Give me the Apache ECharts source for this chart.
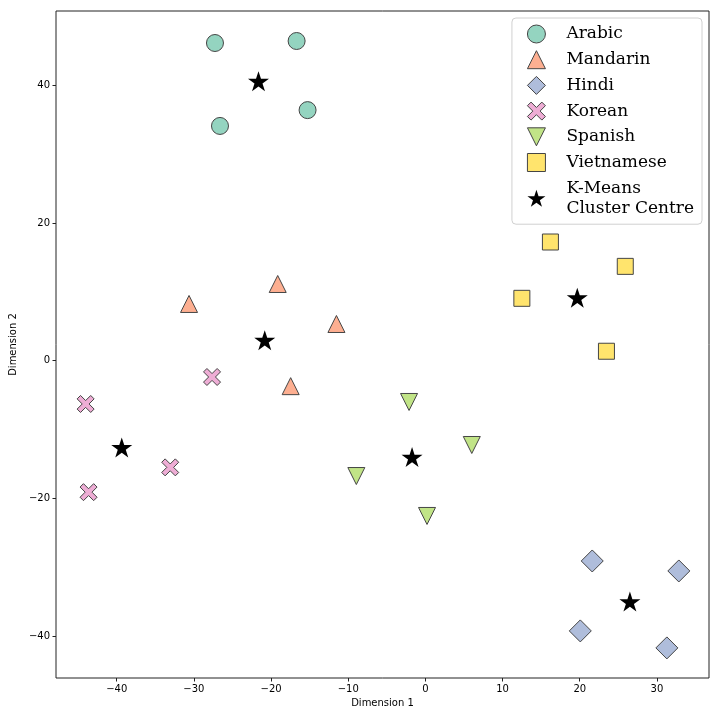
<!DOCTYPE html>
<html>
<head>
<meta charset="utf-8">
<script src="https://cdn.jsdelivr.net/npm/echarts@6/dist/echarts.min.js"></script>
<style>
  html, body { margin: 0; padding: 0; background: #fff; }
  #chart { width: 720px; height: 720px; }
</style>
</head>
<body>
<div id="chart"></div>
<script>
// values
const arabic = [[-27.27, 46.15], [-16.69, 46.44], [-26.62, 34.1], [-15.27, 36.4]];
const mandarin = [[-30.63, 8.24], [-19.14, 11.14], [-11.53, 5.33], [-17.46, -3.7]];
const hindi = [[21.62, -29.1], [32.84, -30.55], [20.07, -39.26], [31.29, -41.73]];
const korean = [[-44.03, -6.29], [-27.65, -2.37], [-33.07, -15.5], [-43.65, -19.1]];
const spanish = [[-2.12, -6.0], [6.01, -12.25], [-8.95, -16.76], [0.21, -22.56]];
const vietnamese = [[16.2, 17.24], [25.9, 13.7], [12.5, 9.06], [23.46, 1.37]];
const centres = [[-21.63, 40.6], [-20.82, 2.97], [-39.35, -12.6], [-1.73, -14.0], [19.68, 9.15], [26.5, -35.0]];

const xTicks = [-40, -30, -20, -10, 0, 10, 20, 30];
const yTicks = [-40, -20, 0, 20, 40];

// marker shapes
const crossPath = 'path://M0.53,-0.884L0.884,-0.53L0.354,0L0.884,0.53L0.53,0.884L0,0.354L-0.53,0.884L-0.884,0.53L-0.354,0L-0.884,-0.53L-0.53,-0.884L0,-0.354Z';
const downTri = 'path://M-1,-1L1,-1L0,1Z';
const starPath = 'path://M0,-1L0.225,-0.309L0.951,-0.309L0.363,0.118L0.588,0.809L0,0.382L-0.588,0.809L-0.363,0.118L-0.951,-0.309L-0.225,-0.309Z';

const edge = '#454545';
const minus = v => String(v).replace('-', '\u2212');

const chart = echarts.init(document.getElementById('chart'));

function pts(name, data, symbol, size, color) {
  return {
    name: name,
    type: 'scatter',
    data: data,
    symbol: symbol,
    symbolSize: size,
    itemStyle: { color: color, borderColor: edge, borderWidth: 1, opacity: 1 },
    emphasis: { disabled: true }
  };
}

const option = {
  animation: false,
  backgroundColor: '#fff',
  grid: {
    left: 53, right: 11, top: 11, bottom: 42,
    show: true, borderColor: '#222', borderWidth: 1
  },
  xAxis: {
    type: 'value',
    min: -47.87, max: 36.75,
    name: 'Dimension 1',
    nameLocation: 'middle',
    nameGap: 20,
    nameTextStyle: { fontFamily: 'DejaVu Sans', fontSize: 10, color: '#000' },
    splitLine: { show: false },
    axisLine: { show: false, onZero: false },
    axisTick: { show: true, length: 3.5, customValues: xTicks, lineStyle: { color: '#222' } },
    axisLabel: {
      customValues: xTicks, formatter: minus, margin: 6,
      fontFamily: 'DejaVu Sans', fontSize: 10, color: '#000'
    }
  },
  yAxis: {
    type: 'value',
    min: -46.1, max: 50.8,
    name: 'Dimension 2',
    nameLocation: 'middle',
    nameGap: 37,
    nameRotate: 90,
    nameTextStyle: { fontFamily: 'DejaVu Sans', fontSize: 10, color: '#000' },
    splitLine: { show: false },
    axisLine: { show: false, onZero: false },
    axisTick: { show: true, length: 3.5, customValues: yTicks, lineStyle: { color: '#222' } },
    axisLabel: {
      customValues: yTicks, formatter: minus, margin: 6,
      fontFamily: 'DejaVu Sans', fontSize: 10, color: '#000'
    }
  },
  legend: {
    orient: 'vertical',
    right: 18,
    top: 18,
    padding: [6, 8, 6, 15],
    itemWidth: 18,
    itemHeight: 18,
    itemGap: 5.7,
    backgroundColor: '#fff',
    borderColor: '#d0d0d0',
    borderWidth: 1,
    borderRadius: 4,
    selectedMode: false,
    itemStyle: { borderWidth: 1 },
    textStyle: {
      fontFamily: 'DejaVu Serif', fontSize: 17, lineHeight: 20, color: '#000',
      padding: [0, 0, 0, 16]
    },
    data: [
      { name: 'Arabic', icon: 'circle' },
      { name: 'Mandarin', icon: 'triangle' },
      { name: 'Hindi', icon: 'diamond' },
      { name: 'Korean', icon: crossPath },
      { name: 'Spanish', icon: downTri },
      { name: 'Vietnamese', icon: 'rect' },
      { name: 'K-Means\nCluster Centre', icon: starPath }
    ]
  },
  series: [
    pts('Arabic', arabic, 'circle', 17, '#94d4c0'),
    pts('Mandarin', mandarin, 'triangle', 17, '#fdaf91'),
    pts('Hindi', hindi, 'diamond', 22, '#afbddb'),
    pts('Korean', korean, crossPath, 17, '#eeadd5'),
    pts('Spanish', spanish, downTri, 17, '#c1e487'),
    pts('Vietnamese', vietnamese, 'rect', 16, '#ffe46d'),
    {
      name: 'K-Means\nCluster Centre',
      type: 'scatter',
      data: centres,
      symbol: starPath,
      symbolSize: [21, 20],
      itemStyle: { color: '#000', borderWidth: 0, opacity: 1 },
      emphasis: { disabled: true },
      z: 5
    }
  ]
};

chart.setOption(option);
</script>
</body>
</html>
